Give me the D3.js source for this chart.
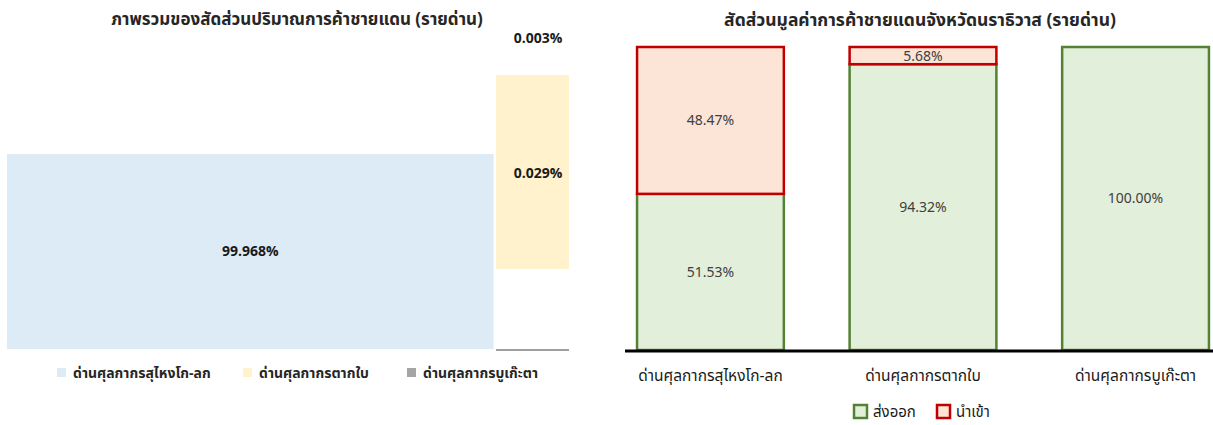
<!DOCTYPE html>
<html>
<head>
<meta charset="utf-8">
<script src="https://cdn.jsdelivr.net/npm/d3@7"></script>
<style>
  body { margin: 0; background: #fff; }
  svg { display: block; font-family: Tahoma, "Leelawadee UI", "Noto Sans Thai", "Noto Sans", sans-serif; }
</style>
</head>
<body>
<svg id="chart" width="1213" height="425"></svg>
<script>
// ข้อมูล
const gates = ['ด่านศุลกากรสุไหงโก-ลก', 'ด่านศุลกากรตากใบ', 'ด่านศุลกากรบูเก๊ะตา'];
const volumeShare = [99.968, 0.029, 0.003];
const volumeColors = ['#DDEBF7', '#FFF2CC', '#A5A5A5'];

const exportShare = [51.53, 94.32, 100.00];
const importShare = [48.47, 5.68, 0];

const leftTitle = 'ภาพรวมของสัดส่วนปริมาณการค้าชายแดน (รายด่าน)';
const rightTitle = 'สัดส่วนมูลค่าการค้าชายแดนจังหวัดนราธิวาส (รายด่าน)';
const seriesNames = ['ส่งออก', 'นำเข้า'];

const svg = d3.select('#chart');

// ---------- left chart ----------
const left = svg.append('g');

left.append('text')
  .text(leftTitle)
  .attr('x', 297).attr('y', 25)
  .attr('text-anchor', 'middle')
  .style('font-size', '17px').style('font-weight', 'bold')
  .attr('fill', '#262626');

// broken layout: big bar on its own, small ones stacked in a second column
const xL = d3.scaleLinear().domain([0, 1.155]).range([7, 569]);
const yL = d3.scaleLinear().domain([0, 1]).range([349, 154]);

const leftBars = [
  { x0: 0, x1: 1, y0: 0, y1: 1, labelY: 0.5 },
  { x0: 1.005, x1: 1.155, y0: 0.41, y1: 1.405, labelY: 0.9 },
  { x0: 1.005, x1: 1.155, y0: 1.6, y1: 1.6, labelY: 1.595 }
];

const lg = left.selectAll('g.bar')
  .data(volumeShare)
  .enter()
  .append('g');

lg.append('rect')
  .attr('x', (d, i) => xL(leftBars[i].x0))
  .attr('y', (d, i) => yL(leftBars[i].y1))
  .attr('width', (d, i) => xL(leftBars[i].x1) - xL(leftBars[i].x0))
  .attr('height', (d, i) => yL(leftBars[i].y0) - yL(leftBars[i].y1))
  .attr('fill', (d, i) => volumeColors[i]);

lg.append('text')
  .text(d => `${d.toFixed(3)}%`)
  .attr('x', (d, i) => i === 0 ? (xL(0) + xL(1)) / 2 : xL(1.005) + 42)
  .attr('y', (d, i) => yL(leftBars[i].labelY))
  .attr('dy', '0.35em')
  .attr('text-anchor', 'middle')
  .attr('fill', '#1a1a1a')
  .style('font-size', '14px').style('font-weight', 'bold');

left.append('line')
  .attr('x1', xL(1.005)).attr('x2', xL(1.155))
  .attr('y1', 350).attr('y2', 350)
  .attr('stroke', '#7f7f7f').attr('stroke-width', 1.5);

const legL = left.selectAll('g.leg')
  .data(gates)
  .enter()
  .append('g')
  .attr('transform', (d, i) => `translate(${[57, 243, 407][i]},368)`);

legL.append('rect')
  .attr('width', 9).attr('height', 9)
  .attr('fill', (d, i) => volumeColors[i]);

legL.append('text')
  .text(d => d)
  .attr('x', 16).attr('y', 5)
  .attr('dy', '0.35em')
  .attr('fill', '#262626')
  .style('font-size', '14px').style('font-weight', 'bold');

// ---------- right chart ----------
const right = svg.append('g');

right.append('text')
  .text(rightTitle)
  .attr('x', 920).attr('y', 26)
  .attr('text-anchor', 'middle')
  .style('font-size', '17.5px').style('font-weight', 'bold')
  .attr('fill', '#262626');

const xR = d3.scaleBand()
  .domain(gates)
  .range([625, 1221])
  .paddingInner(0.3)
  .paddingOuter(0.052);

const yR = d3.scaleLinear().domain([0, 100]).range([350, 47]);

const rg = right.selectAll('g.col')
  .data(gates)
  .enter()
  .append('g');

// export (bottom)
rg.append('rect')
  .attr('x', d => xR(d) + 1)
  .attr('y', (d, i) => yR(exportShare[i]))
  .attr('width', xR.bandwidth() - 2)
  .attr('height', (d, i) => yR(0) - yR(exportShare[i]))
  .attr('fill', '#E2EFDA')
  .attr('stroke', '#548235')
  .attr('stroke-width', 2.5);

// import (top)
rg.filter((d, i) => importShare[i] > 0)
  .append('rect')
  .attr('x', d => xR(d) + 1)
  .attr('y', d => yR(exportShare[gates.indexOf(d)] + importShare[gates.indexOf(d)]))
  .attr('width', xR.bandwidth() - 2)
  .attr('height', d => yR(0) - yR(importShare[gates.indexOf(d)]))
  .attr('fill', '#FCE4D6')
  .attr('stroke', '#C00000')
  .attr('stroke-width', 2.5);

rg.append('text')
  .text((d, i) => `${exportShare[i].toFixed(2)}%`)
  .attr('x', d => xR(d) + xR.bandwidth() / 2)
  .attr('y', (d, i) => yR(exportShare[i] / 2))
  .attr('dy', '0.35em')
  .attr('text-anchor', 'middle')
  .attr('fill', '#404040')
  .style('font-size', '14px');

rg.filter((d, i) => importShare[i] > 0)
  .append('text')
  .text(d => `${importShare[gates.indexOf(d)].toFixed(2)}%`)
  .attr('x', d => xR(d) + xR.bandwidth() / 2)
  .attr('y', d => {
    const i = gates.indexOf(d);
    return yR(exportShare[i] + importShare[i] / 2);
  })
  .attr('dy', '0.35em')
  .attr('text-anchor', 'middle')
  .attr('fill', '#404040')
  .style('font-size', '14px');

right.append('line')
  .attr('x1', 625).attr('x2', 1213)
  .attr('y1', 351).attr('y2', 351)
  .attr('stroke', '#000').attr('stroke-width', 3);

right.selectAll('text.cat')
  .data(gates)
  .enter()
  .append('text')
  .text(d => d)
  .attr('x', d => xR(d) + xR.bandwidth() / 2)
  .attr('y', 376)
  .attr('dy', '0.35em')
  .attr('text-anchor', 'middle')
  .attr('fill', '#1a1a1a')
  .style('font-size', '15.5px');

const legR = right.selectAll('g.leg')
  .data(seriesNames)
  .enter()
  .append('g')
  .attr('transform', (d, i) => `translate(${[854, 937][i]},405)`);

legR.append('rect')
  .attr('width', 13).attr('height', 13)
  .attr('fill', (d, i) => ['#E2EFDA', '#FCE4D6'][i])
  .attr('stroke', (d, i) => ['#548235', '#C00000'][i])
  .attr('stroke-width', 2.5);

legR.append('text')
  .text(d => d)
  .attr('x', 19).attr('y', 6.5)
  .attr('dy', '0.35em')
  .attr('fill', '#1a1a1a')
  .style('font-size', '15px');
</script>
</body>
</html>
